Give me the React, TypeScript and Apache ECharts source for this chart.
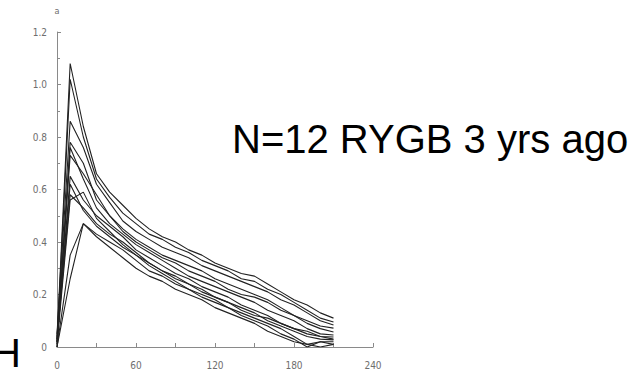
import React, { useEffect, useRef } from "react";
import * as echarts from "echarts";

// Sampling times (minutes) shared by every subject
const times = [0, 10, 20, 30, 40, 50, 60, 70, 80, 90, 100, 110, 120, 130, 140, 150, 160, 170, 180, 190, 200, 210];

// One concentration curve per subject (N = 12)
const subject1 = [0.03, 1.08, 0.84, 0.66, 0.59, 0.54, 0.49, 0.45, 0.42, 0.40, 0.37, 0.35, 0.32, 0.30, 0.28, 0.27, 0.24, 0.21, 0.18, 0.16, 0.13, 0.11];
const subject2 = [0.02, 1.02, 0.80, 0.64, 0.57, 0.51, 0.47, 0.43, 0.41, 0.38, 0.36, 0.33, 0.31, 0.29, 0.26, 0.25, 0.22, 0.20, 0.17, 0.14, 0.11, 0.095];
const subject3 = [0.05, 0.86, 0.76, 0.62, 0.55, 0.48, 0.44, 0.41, 0.38, 0.36, 0.34, 0.31, 0.29, 0.27, 0.25, 0.23, 0.21, 0.18, 0.16, 0.13, 0.10, 0.084];
const subject4 = [0.01, 0.78, 0.70, 0.56, 0.50, 0.45, 0.41, 0.38, 0.35, 0.33, 0.31, 0.29, 0.26, 0.24, 0.22, 0.20, 0.18, 0.15, 0.12, 0.10, 0.08, 0.072];
const subject5 = [0.0, 0.76, 0.64, 0.53, 0.47, 0.43, 0.39, 0.36, 0.33, 0.30, 0.27, 0.25, 0.23, 0.21, 0.19, 0.17, 0.14, 0.12, 0.10, 0.07, 0.05, 0.046];
const subject6 = [0.04, 0.73, 0.66, 0.58, 0.50, 0.44, 0.40, 0.37, 0.34, 0.32, 0.29, 0.27, 0.25, 0.22, 0.20, 0.19, 0.17, 0.14, 0.12, 0.09, 0.07, 0.057];
const subject7 = [0.02, 0.65, 0.56, 0.50, 0.46, 0.42, 0.37, 0.34, 0.31, 0.28, 0.26, 0.23, 0.21, 0.19, 0.16, 0.14, 0.12, 0.09, 0.07, 0.05, 0.04, 0.038];
const subject8 = [0.03, 0.58, 0.53, 0.47, 0.43, 0.40, 0.36, 0.32, 0.29, 0.27, 0.24, 0.22, 0.19, 0.17, 0.15, 0.13, 0.10, 0.08, 0.06, 0.04, 0.03, 0.027];
const subject9 = [0.01, 0.56, 0.59, 0.49, 0.44, 0.39, 0.35, 0.31, 0.28, 0.25, 0.22, 0.20, 0.18, 0.15, 0.13, 0.11, 0.09, 0.07, 0.04, 0.01, 0.02, 0.01];
const subject10 = [0.0, 0.35, 0.47, 0.43, 0.40, 0.37, 0.33, 0.29, 0.27, 0.24, 0.22, 0.19, 0.17, 0.15, 0.12, 0.10, 0.08, 0.05, 0.03, 0.0, 0.02, 0.02];
const subject11 = [0.0, 0.26, 0.47, 0.42, 0.38, 0.34, 0.30, 0.27, 0.25, 0.22, 0.20, 0.18, 0.15, 0.13, 0.11, 0.09, 0.06, 0.04, 0.02, 0.01, 0.0, 0.01];
const subject12 = [0.02, 0.62, 0.52, 0.46, 0.42, 0.38, 0.35, 0.32, 0.29, 0.26, 0.24, 0.21, 0.19, 0.17, 0.14, 0.12, 0.11, 0.09, 0.07, 0.06, 0.04, 0.03];

const subjects = [
  subject1, subject2, subject3, subject4, subject5, subject6,
  subject7, subject8, subject9, subject10, subject11, subject12,
];

const xTicks = [0, 60, 120, 180, 240];
const yTicks = [0, 0.2, 0.4, 0.6, 0.8, 1.0, 1.2];

const caption = "N=12 RYGB 3 yrs ago";

const axisFont = "'Liberation Sans Narrow', 'DejaVu Sans Condensed', sans-serif";

export default function App() {
  const ref = useRef<HTMLDivElement>(null);

  useEffect(() => {
    if (!ref.current) return;
    const chart = echarts.init(ref.current, undefined, { renderer: "svg" });

    const series = subjects.map((vals, i) => ({
      name: `S${i + 1}`,
      type: "line" as const,
      data: times.map((t, k) => [t, vals[k]]),
      showSymbol: false,
      symbol: "none",
      lineStyle: { color: "#222222", width: 1.1 },
      silent: true,
    }));

    chart.setOption({
      animation: false,
      backgroundColor: "#ffffff",
      grid: { left: 57, right: 259, top: 32, bottom: 28, containLabel: false },
      xAxis: {
        type: "value",
        min: xTicks[0],
        max: xTicks[xTicks.length - 1],
        interval: 60,
        axisLine: { show: true, lineStyle: { color: "#8a8a8a", width: 1 } },
        axisTick: { show: true, inside: true, length: 4, lineStyle: { color: "#8a8a8a" } },
        minorTick: { show: true, splitNumber: 2, length: 4, lineStyle: { color: "#8a8a8a" } },
        splitLine: { show: false },
        axisLabel: {
          color: "#6e6e6e",
          fontSize: 10,
          fontFamily: axisFont,
          margin: 13,
          formatter: (v: number) => String(v),
        },
      },
      yAxis: {
        type: "value",
        min: yTicks[0],
        max: yTicks[yTicks.length - 1],
        interval: 0.2,
        name: "a",
        nameLocation: "end",
        nameGap: 17,
        nameTextStyle: { color: "#6e6e6e", fontSize: 9, fontFamily: axisFont, align: "center" },
        axisLine: { show: true, lineStyle: { color: "#8a8a8a", width: 1 } },
        axisTick: { show: true, inside: true, length: 4, lineStyle: { color: "#8a8a8a" } },
        minorTick: { show: true, splitNumber: 2, length: 3, lineStyle: { color: "#8a8a8a" } },
        splitLine: { show: false },
        axisLabel: {
          color: "#6e6e6e",
          fontSize: 10,
          fontFamily: axisFont,
          margin: 10,
          formatter: (v: number) => (v === 0 ? "0" : v.toFixed(1)),
        },
      },
      graphic: [
        {
          type: "text",
          left: 232,
          top: 119,
          style: {
            text: caption,
            fill: "#000000",
            font: "40px 'Liberation Sans', Arial, sans-serif",
          },
        },
        {
          type: "text",
          x: -8,
          y: 333,
          style: {
            text: "H",
            fill: "#000000",
            font: "40px 'Liberation Sans', Arial, sans-serif",
          },
        },
      ],
      series,
    });

    return () => chart.dispose();
  }, []);

  return (
    <div
      ref={ref}
      style={{ position: "fixed", left: 0, top: 0, width: 632, height: 375, background: "#fff" }}
    />
  );
}
